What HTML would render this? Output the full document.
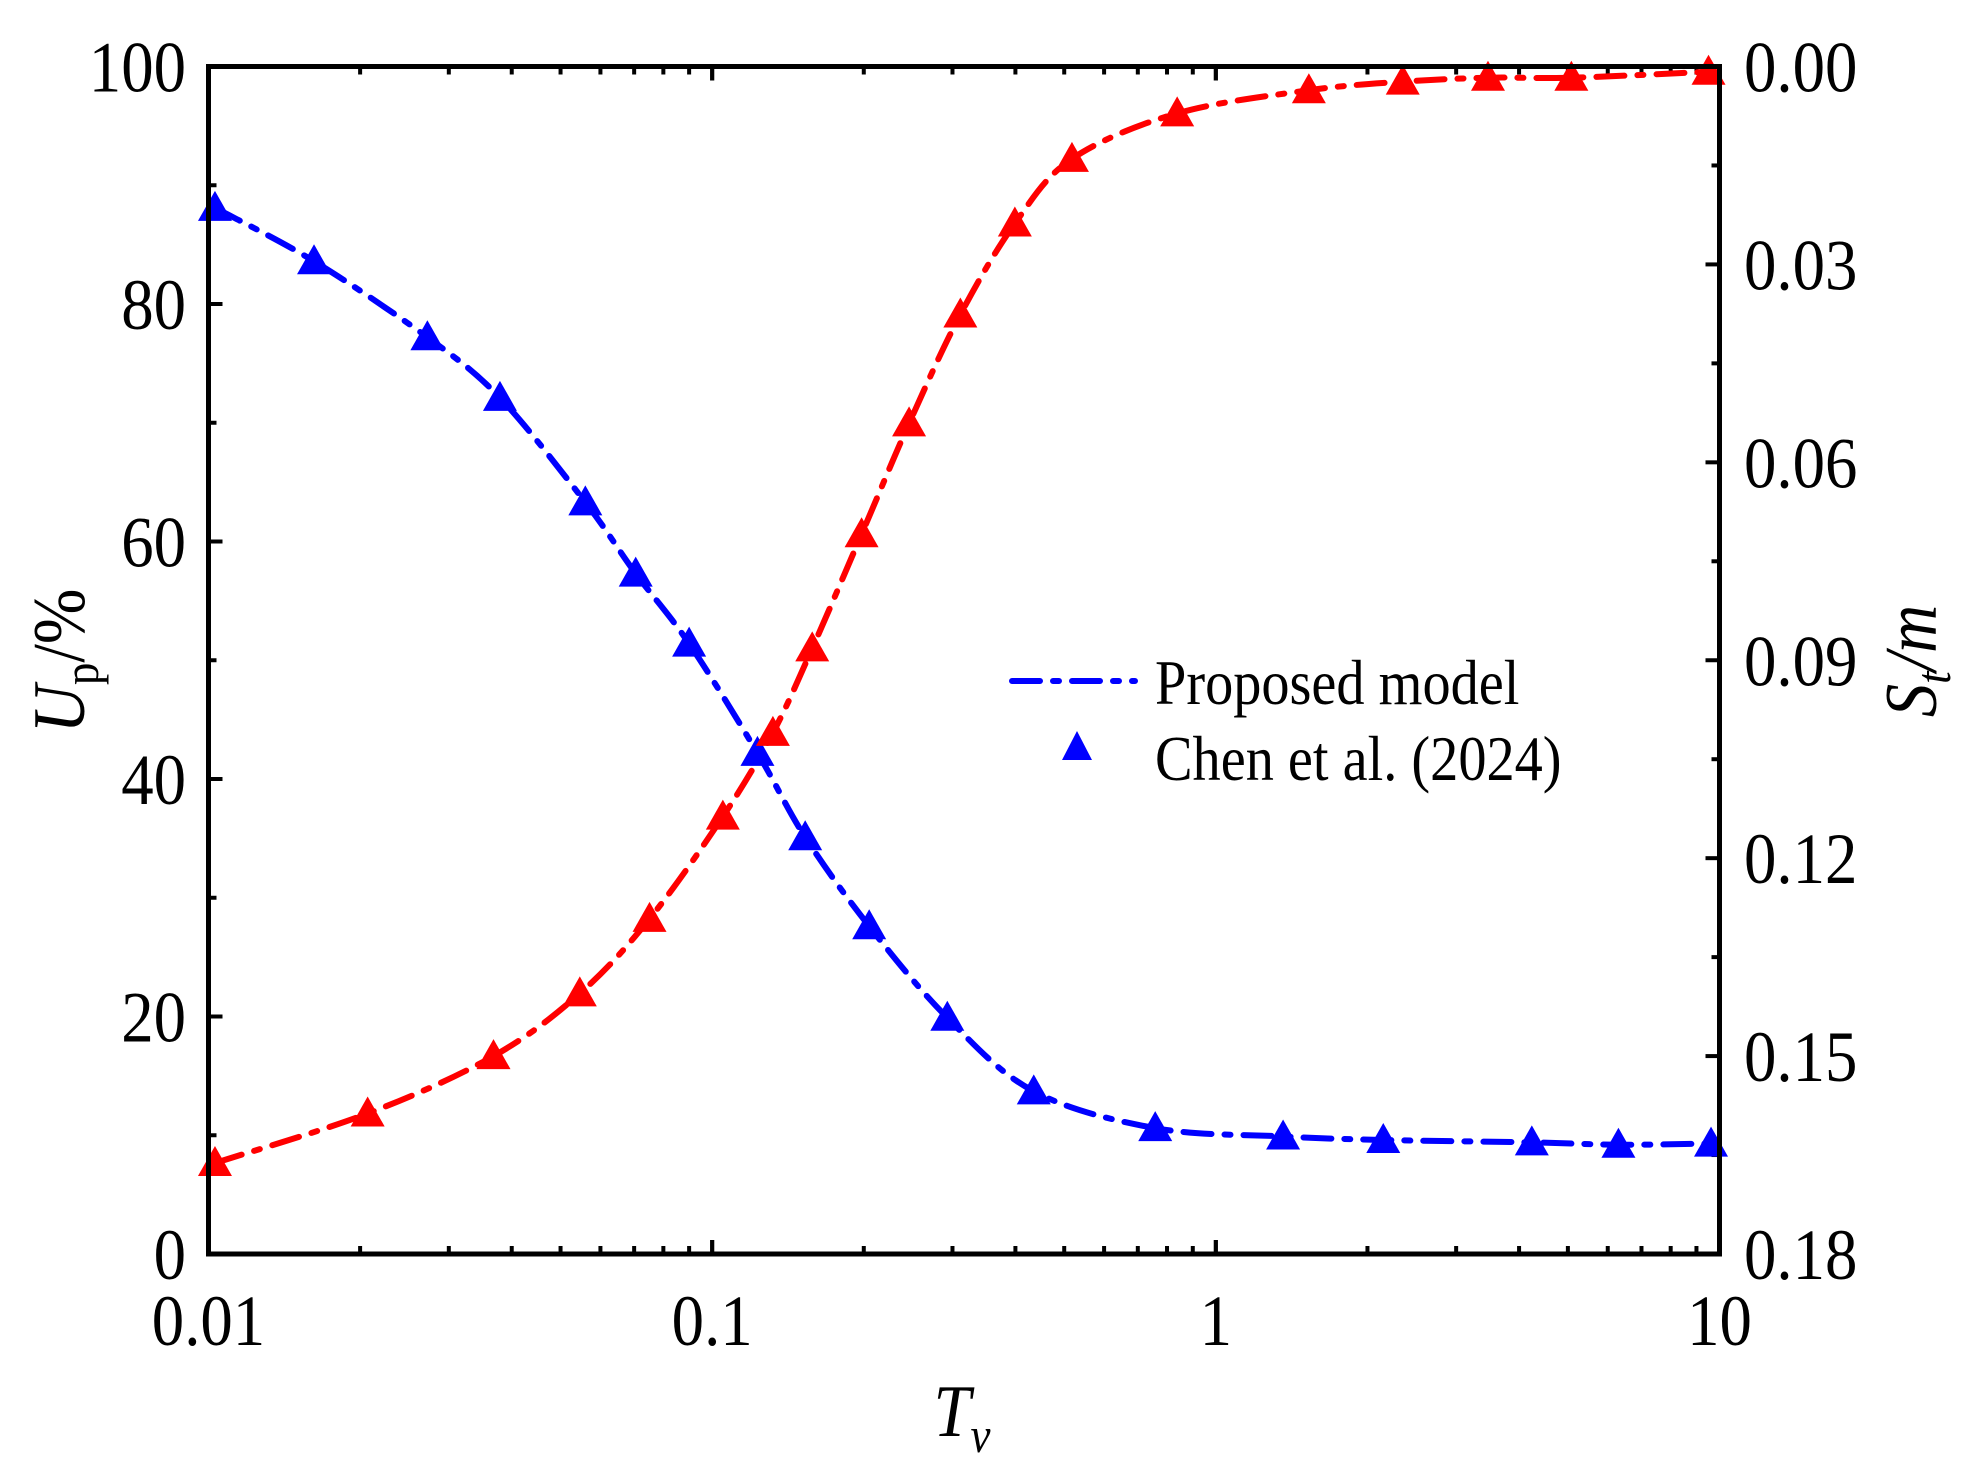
<!DOCTYPE html>
<html><head><meta charset="utf-8"><style>
html,body{margin:0;padding:0;background:#fff;}
svg{display:block;font-family:"Liberation Serif",serif;}
</style></head><body>
<svg id="chart" width="1985" height="1482" viewBox="0 0 1985 1482" xmlns="http://www.w3.org/2000/svg"></svg>
<script>
const upX=[0.0103,0.0162,0.0272,0.0379,0.056,0.0705,0.090,0.123,0.153,0.205,0.293,0.435,0.758,1.36,2.15,4.24,6.30,9.62];
const upVals=[88.1,83.6,77.2,72.1,63.3,57.3,51.4,42.2,35.1,27.6,19.9,13.7,10.6,9.9,9.6,9.4,9.2,9.3];
const stX=[0.0103,0.0207,0.0368,0.0546,0.0751,0.105,0.132,0.158,0.198,0.246,0.311,0.399,0.518,0.838,1.53,2.35,3.47,5.08,9.51];
const stVals=[0.1662,0.1587,0.1500,0.1405,0.1292,0.1137,0.1010,0.0882,0.0709,0.0541,0.0376,0.0238,0.0140,0.0071,0.0036,0.0023,0.0017,0.0017,0.0008];
const xTicks=[0.01,0.1,1,10];
const xTickLabels=["0.01","0.1","1","10"];
const yLeftTicks=[0,20,40,60,80,100];
const yRightTicks=[0,0.03,0.06,0.09,0.12,0.15,0.18];
const yRightLabels=["0.00","0.03","0.06","0.09","0.12","0.15","0.18"];

const L=208.5,R=1719.5,T=66.5,B=1254;
const NS="http://www.w3.org/2000/svg";
const svg=document.getElementById('chart');
function sx(v){return L+(Math.log10(v)+2)/3*(R-L);}
function syL(v){return B-v/100*(B-T);}
function syR(v){return T+v/0.18*(B-T);}
function mk(tag,attrs,parent){const e=document.createElementNS(NS,tag);for(const k in attrs)e.setAttribute(k,attrs[k]);(parent||svg).appendChild(e);return e;}
function label(x,y,str,anchor){const g=mk('g',{transform:`translate(${x},${y}) scale(0.9,1)`});
 const t=mk('text',{x:0,y:0,'font-size':72,'text-anchor':anchor},g);t.textContent=str;return t;}

// ticks
const tg=mk('g',{stroke:'#000','stroke-width':4});


for(let d=-2;d<1;d++){for(let m=1;m<=10;m++){const v=m*Math.pow(10,d);const x=sx(v);const len=(m===1||m===10)?14:8;
 mk('line',{x1:x,x2:x,y1:B,y2:B-len},tg);mk('line',{x1:x,x2:x,y1:T,y2:T+len},tg);}}
for(let v=0;v<=100;v+=10){const y=syL(v);const len=v%20===0?14:8;mk('line',{x1:L,x2:L+len,y1:y,y2:y},tg);}
for(let i=0;i<=12;i++){const v=i*0.015;const y=syR(v);const len=i%2===0?14:8;mk('line',{x1:R,x2:R-len,y1:y,y2:y},tg);}

// curves
function path(xs,ys){const p=xs.map((x,i)=>[x,ys[i]]);let d=`M${p[0][0]},${p[0][1]}`;
 for(let i=0;i<p.length-1;i++){const p0=p[Math.max(0,i-1)],p1=p[i],p2=p[i+1],p3=p[Math.min(p.length-1,i+2)];
  const c1=[p1[0]+(p2[0]-p0[0])/6,p1[1]+(p2[1]-p0[1])/6],c2=[p2[0]-(p3[0]-p1[0])/6,p2[1]-(p3[1]-p1[1])/6];
  d+=` C${c1[0]},${c1[1]} ${c2[0]},${c2[1]} ${p2[0]},${p2[1]}`;}return d;}
const dash='28 13 6 13';
const bl=mk('path',{d:path(upX.map(sx),upVals.map(syL)),fill:'none',stroke:'#0000ff','stroke-width':6,'stroke-dasharray':dash,'stroke-linecap':'round'});


const rl=mk('path',{d:path(stX.map(sx),stVals.map(syR)),fill:'none',stroke:'#ff0000','stroke-width':6,'stroke-dasharray':dash,'stroke-linecap':'round'});



function tri(cx,cy,col){return mk('polygon',{points:`${cx},${cy-17} ${cx-17},${cy+13} ${cx+17},${cy+13}`,fill:col});}
upX.forEach((x,i)=>{const t=tri(sx(x),syL(upVals[i]),'#0000ff');
 
 });
stX.forEach((x,i)=>{const t=tri(sx(x),syR(stVals[i]),'#ff0000');
 
 });

// frame
const fr=mk('rect',{x:L,y:T,width:R-L,height:B-T,fill:'none',stroke:'#000','stroke-width':5});



// labels
xTicks.forEach((v,i)=>{const t=label(sx(v),1345,xTickLabels[i],'middle');
 
 });
yLeftTicks.forEach(v=>{const t=label(186,syL(v)+25,String(v),'end');
 
 });
yRightTicks.forEach((v,i)=>{const t=label(1744,syR(v)+25,yRightLabels[i],'start');
 
 });
</script>
<svg style="position:absolute;left:0;top:0" width="1985" height="1482" xmlns="http://www.w3.org/2000/svg">
<g transform="translate(962,1436) scale(0.9,1)"><text x="0" y="0" font-size="74" font-style="italic" text-anchor="middle" font-family="Liberation Serif">T<tspan font-size="50" dy="16">v</tspan></text></g>
<g transform="translate(84,661) rotate(-90) scale(0.9,1)"><text x="0" y="0" font-size="74" text-anchor="middle" font-family="Liberation Serif"><tspan font-style="italic">U</tspan><tspan font-size="50" dy="14">p</tspan><tspan dy="-14">/%</tspan></text></g>
<g transform="translate(1936,661) rotate(-90) scale(0.9,1)"><text x="0" y="0" font-size="74" text-anchor="middle" font-family="Liberation Serif" font-style="italic">S<tspan font-size="50" dy="14">t</tspan><tspan dy="-14">/m</tspan></text></g>
<line x1="1012" y1="681" x2="1135" y2="681" stroke="#0000ff" stroke-width="6" stroke-dasharray="28 13 6 13" stroke-linecap="round"/>
<g transform="translate(1155,704) scale(0.88,1)"><text x="0" y="0" font-size="64" font-family="Liberation Serif">Proposed model</text></g>
<polygon points="1077,731 1062,760 1092,760" fill="#0000ff"/>
<g transform="translate(1155,780) scale(0.88,1)"><text x="0" y="0" font-size="64" font-family="Liberation Serif">Chen et al. (2024)</text></g>
</svg>
</body></html>
